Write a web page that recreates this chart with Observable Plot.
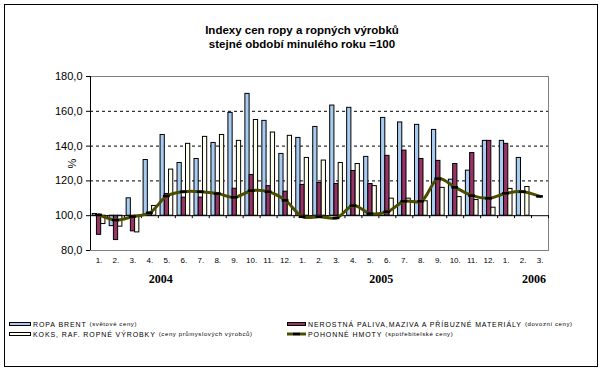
<!DOCTYPE html>
<html>
<head>
<meta charset="utf-8">
<script src="https://cdn.jsdelivr.net/npm/d3@7"></script>
<script src="https://cdn.jsdelivr.net/npm/@observablehq/plot@0.6"></script>
<style>
  html, body { margin: 0; padding: 0; background: white; }
  #wrap { position: relative; width: 604px; height: 371px; overflow: hidden; font-family: "Liberation Sans", Arial, sans-serif; }
  #border { position: absolute; left: 4px; top: 4px; width: 594px; height: 363px; border: 1px solid black; box-sizing: border-box; pointer-events: none; }
  #chart { position: absolute; left: 0; top: 0; }
  #title { position: absolute; left: 0; width: 604px; top: 23px; text-align: center; font-weight: bold; font-size: 11.5px; line-height: 14px; color: black; }
  #legend { position: absolute; left: 0; top: 319px; width: 604px; height: 30px; }
  .li { position: absolute; display: flex; align-items: center; height: 10px; white-space: nowrap; }
  .sw { width: 22px; height: 4px; border: 1px solid black; box-sizing: border-box; margin-right: 2px; }
  .big { font-size: 7px; letter-spacing: 0.9px; }
  .small { font-size: 6px; letter-spacing: 0.6px; margin-left: 3px; }
</style>
</head>
<body>
<div id="wrap">
  <div id="chart"></div>
  <div id="title">Indexy cen ropy a ropných výrobků<br>stejné období minulého roku =100</div>
  <div id="legend"></div>
  <div id="border"></div>
</div>
<script>
const months = ["1.","2.","3.","4.","5.","6.","7.","8.","9.","10.","11.","12.",
                "1.","2.","3.","4.","5.","6.","7.","8.","9.","10.","11.","12.",
                "1.","2.","3."];
const years = ["2004", "2005", "2006"];
const yearMonthIndex = [4, 17, 26];

const seriesNames = [
  "ROPA BRENT",
  "NEROSTNÁ PALIVA,MAZIVA A PŘÍBUZNÉ MATERIÁLY",
  "KOKS, RAF. ROPNÉ VÝROBKY",
  "POHONNÉ HMOTY"
];
const seriesNotes = ["(světové ceny)", "(dovozní ceny)", "(ceny průmyslových výrobců)", "(spotřebitelské ceny)"];

const ropaBrent = [101, 94, 110, 132, 146.4, 130.3, 132.6, 141.8, 159.1, 170, 154.5, 135.5,
                   144.7, 151, 163.3, 162, 133.8, 156.2, 153.6, 152.2, 149.3, 120.7, 125.9, 143,
                   143, 133.2, null];
const nerostnaPaliva = [89, 86, 91, 101, 112.5, 110.4, 110.4, 112.5, 115.5, 123.4, 117, 113.8,
                        117.7, 118.8, 118.2, 125.7, 118.2, 134.4, 137.4, 132.6, 131.5, 129.7, 136, 143,
                        141.3, null, null];
const koks = [95.2, 93.7, 90.4, 105.6, 126.5, 141.3, 145.3, 146.4, 143, 155, 147.8, 145.9,
              133.2, 131.7, 130.3, 129.7, 117, 109.8, 109.8, 108.3, 116, 110.7, 109, 104.6,
              115.4, 116.5, null];
const pohonneHmoty = [100.5, 97.5, 99.5, 101.7, 111.3, 113.8, 113.8, 112.7, 110.6, 114.4, 113.8, 108.8,
                      99.4, 99.4, 98.7, 105.8, 101.2, 102.3, 108.3, 108.3, 121.3, 116.3, 111.5, 110,
                      112.9, 113.8, 111.1];
const yTicks = [80, 100, 120, 140, 160, 180];
const gridValues = [120, 140, 160];

const colors = ["#a6caf0", "#993366", "#ffffee", "#4d4d00"];

const barSeries = [ropaBrent, nerostnaPaliva, koks];
const bars = [];
barSeries.forEach((arr, k) => arr.forEach((v, i) => { if (v != null) bars.push({i, k, v}); }));
const linePts = pohonneHmoty.map((v, i) => ({i, v}));
const boundaries = d3.range(0, months.length + 1);
const centers = months.map((m, i) => i + 0.5);
const yearRows = years.map((y, j) => ({label: y, i: yearMonthIndex[j]}));

const groupStart = 0.13, barW = 0.25;

const chart = Plot.plot({
  width: 604,
  height: 300,
  marginLeft: 90,
  marginRight: 56,
  marginTop: 76,
  marginBottom: 50,
  style: {fontFamily: "Liberation Sans, Arial, sans-serif", background: "transparent", overflow: "visible"},
  x: {type: "linear", domain: [0, months.length], axis: null},
  y: {domain: [80, 180], axis: null},
  marks: [
    Plot.frame({stroke: "#808080"}),
    Plot.ruleY(gridValues, {stroke: "black", strokeDasharray: "3,3", strokeWidth: 1}),
    Plot.rect(bars, {
      x1: d => d.i + groupStart + d.k * barW,
      x2: d => d.i + groupStart + (d.k + 1) * barW,
      y1: 100, y2: d => d.v,
      fill: d => colors[d.k], stroke: "black", strokeWidth: 1
    }),
    Plot.ruleY([100], {stroke: "black", strokeWidth: 1}),
    Plot.ruleX(boundaries, {y1: 100, y2: 98.3, stroke: "black"}),
    Plot.ruleX([0], {stroke: "black", strokeWidth: 1}),
    Plot.axisY({ticks: yTicks, tickSize: 4, tickPadding: 4, tickFormat: d => d.toFixed(1).replace(".", ","),
      fontSize: 11, label: "%", labelAnchor: "center", labelArrow: "none", labelOffset: 22}),
    Plot.axisX({ticks: centers, tickSize: 0, tickPadding: 7, tickFormat: d => months[Math.floor(d)], fontSize: 8}),
    Plot.line(linePts, {x: d => d.i + 0.5, y: "v", stroke: colors[3], strokeWidth: 3, curve: "catmull-rom"}),
    Plot.ruleY(linePts, {x1: d => d.i + 0.3, x2: d => d.i + 0.7, y: "v", stroke: "black", strokeWidth: 2.5}),
    Plot.text(yearRows, {x: d => d.i + 0.5, y: 80, dy: 29, dx: -6, text: "label",
      fontFamily: "Liberation Serif, Times New Roman, serif", fontWeight: "bold", fontSize: 12})
  ]
});
document.getElementById("chart").appendChild(chart);

// legend
const legend = document.getElementById("legend");
const legendPos = [
  {left: 9, top: 0}, {left: 287, top: 0}, {left: 9, top: 10}, {left: 287, top: 10}
];
seriesNames.forEach((name, k) => {
  const item = document.createElement("div");
  item.className = "li";
  item.style.left = legendPos[k].left + "px";
  item.style.top = legendPos[k].top + "px";
  let sw;
  if (k < 3) {
    sw = document.createElement("div");
    sw.className = "sw";
    sw.style.background = colors[k];
    if (k === 1) sw.style.width = "19px";
  } else {
    sw = document.createElementNS("http://www.w3.org/2000/svg", "svg");
    sw.setAttribute("width", 19); sw.setAttribute("height", 6);
    sw.style.marginRight = "2px";
    sw.innerHTML = `<line x1="0" x2="19" y1="3" y2="3" stroke="${colors[3]}" stroke-width="3"/>` +
                   `<line x1="6" x2="13" y1="3" y2="3" stroke="black" stroke-width="2.5"/>`;
  }
  item.appendChild(sw);
  const b = document.createElement("span"); b.className = "big"; b.textContent = name;
  const s = document.createElement("span"); s.className = "small"; s.textContent = seriesNotes[k];
  item.appendChild(b); item.appendChild(s);
  legend.appendChild(item);
});
</script>
</body>
</html>
